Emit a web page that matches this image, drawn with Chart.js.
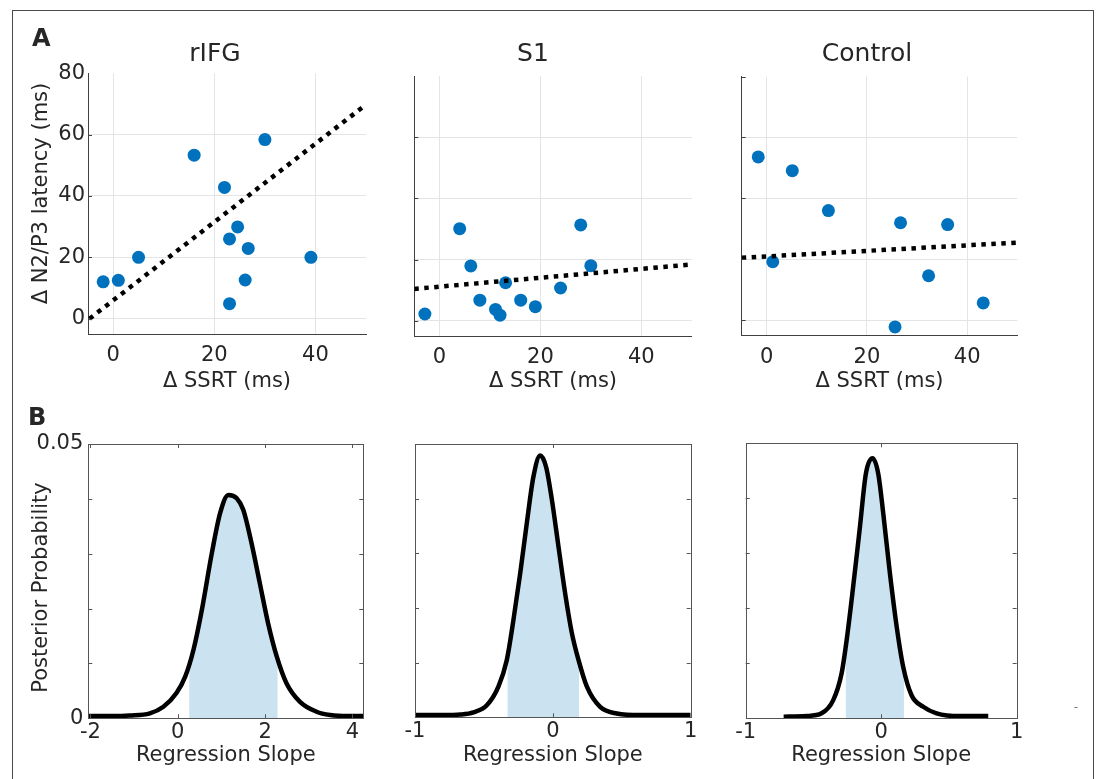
<!DOCTYPE html>
<html>
<head>
<meta charset="utf-8">
<title>SSRT vs N2/P3 latency</title>
<script src="https://cdn.jsdelivr.net/npm/chart.js@4.4.1/dist/chart.umd.min.js"></script>
<style>
  html, body { margin: 0; padding: 0; background: #fff; }
  #page { position: relative; width: 1098px; height: 779px; overflow: hidden;
          font-family: 'DejaVu Sans', sans-serif; color: #262626; }
  #page canvas { position: absolute; left: 0; top: 0; }
  .frame { position: absolute; left: 12px; top: 10px; width: 1080px; height: 800px; border: 1px solid #4a4a4a; }
  .txt { position: absolute; line-height: 1; white-space: nowrap; }
</style>
</head>
<body>
<div id="page">
  <div class="frame"></div>
  <canvas id="a1" width="1098" height="779"></canvas>
  <canvas id="a2" width="1098" height="779"></canvas>
  <canvas id="a3" width="1098" height="779"></canvas>
  <canvas id="b1" width="1098" height="779"></canvas>
  <canvas id="b2" width="1098" height="779"></canvas>
  <canvas id="b3" width="1098" height="779"></canvas>
</div>
<script>
// ---- values ----
const panelTitles = ['rIFG', 'S1', 'Control'];

const ssrtRIFG    = [-2, 1, 5, 16, 22, 30, 24.6, 23, 26.7, 26.1, 23, 39.1];
const latencyRIFG = [12, 12.5, 20, 53.3, 42.8, 58.4, 29.9, 26, 22.9, 12.6, 4.9, 20];
const ssrtS1      = [-2.9, 4, 6.2, 8, 11.1, 12, 13.1, 16.1, 19, 24, 28, 30];
const latencyS1   = [2.2, 30.1, 17.9, 6.7, 3.7, 1.8, 12.4, 6.7, 4.6, 10.7, 31.3, 18];
const ssrtCtrl    = [-1.7, 5.1, 12.3, 1.2, 26.7, 36.1, 32.3, 43.2, 25.6];
const latencyCtrl = [53.6, 49.1, 36, 19.2, 32, 31.4, 14.6, 5.7, -2.2];

// regression line end points
const fitXRIFG = [-4.7, 50], fitYRIFG = [0, 69.8];
const fitXS1   = [-5, 50],   fitYS1   = [10.4, 18.4];
const fitXCtrl = [-5, 50],   fitYCtrl = [20.5, 25.5];

const ssrtTicks      = [0, 20, 40];
const latencyTicks   = [0, 20, 40, 60, 80];
const slopeTicksRIFG = [-2, 0, 2, 4];
const slopeTicks     = [-1, 0, 1];
const probTicks      = [0, 0.01, 0.02, 0.03, 0.04, 0.05];

// posterior densities of the slope
const slopeRIFG = [-2.05, -1.5, -1.1, -0.64, -0.33, -0.03, 0.17, 0.36, 0.55, 0.78, 0.97, 1.16, 1.35, 1.5, 1.69, 1.88, 2.07, 2.27, 2.49, 2.8, 3.18, 3.49, 3.9, 4.25];
const postRIFG  = [0.0004, 0.0004, 0.0005, 0.0009, 0.0021, 0.0046, 0.0076, 0.0125, 0.0197, 0.0301, 0.0374, 0.0407, 0.0401, 0.038, 0.0319, 0.0246, 0.0173, 0.0112, 0.0064, 0.003, 0.0012, 0.0006, 0.0004, 0.0004];
const hdiSlopeRIFG = [0.26, 0.36, 0.55, 0.78, 0.97, 1.16, 1.35, 1.5, 1.69, 1.88, 2.07, 2.27, 2.29];
const hdiPostRIFG  = [0.0098, 0.0125, 0.0197, 0.0301, 0.0374, 0.0407, 0.0401, 0.038, 0.0319, 0.0246, 0.0173, 0.0112, 0.0108];

const slopeS1 = [-1, -0.8, -0.67, -0.576, -0.479, -0.395, -0.334, -0.286, -0.237, -0.189, -0.141, -0.092, -0.049, -0.007, 0.041, 0.089, 0.138, 0.186, 0.247, 0.343, 0.464, 0.633, 0.8, 1];
const postS1  = [0.0004, 0.0004, 0.0005, 0.0009, 0.0022, 0.0056, 0.0105, 0.0178, 0.0263, 0.0355, 0.044, 0.0479, 0.0458, 0.0398, 0.0312, 0.0227, 0.0154, 0.0105, 0.0056, 0.0019, 0.0007, 0.0004, 0.0004, 0.0004];
const hdiSlopeS1 = [-0.33, -0.286, -0.237, -0.189, -0.141, -0.092, -0.049, -0.007, 0.041, 0.089, 0.138, 0.19];
const hdiPostS1  = [0.0108, 0.0178, 0.0263, 0.0355, 0.044, 0.0479, 0.0458, 0.0398, 0.0312, 0.0227, 0.0154, 0.0102];

const slopeCtrl = [-0.72, -0.551, -0.44, -0.354, -0.292, -0.255, -0.207, -0.157, -0.113, -0.064, -0.022, 0.015, 0.064, 0.114, 0.162, 0.224, 0.31, 0.409, 0.58, 0.79];
const postCtrl  = [0.0003, 0.0004, 0.0009, 0.0033, 0.0082, 0.0142, 0.0239, 0.0348, 0.0445, 0.0473, 0.0445, 0.0373, 0.0264, 0.0167, 0.0094, 0.0042, 0.0021, 0.0009, 0.0004, 0.0004];
const hdiSlopeCtrl = [-0.263, -0.207, -0.157, -0.113, -0.064, -0.022, 0.015, 0.064, 0.114, 0.168];
const hdiPostCtrl  = [0.0128, 0.0239, 0.0348, 0.0445, 0.0473, 0.0445, 0.0373, 0.0264, 0.0167, 0.0088];

// ---- drawing ----
const W = 1098, H = 779;
const FAMILY = "'DejaVu Sans', sans-serif";
const INK = '#262626';
const AXIS = '#404040';
const BLUE = '#0072BD';
const HDI = '#cbe2f1';

Chart.defaults.font.family = FAMILY;
Chart.defaults.color = INK;

const page = document.getElementById('page');

function pts(xs, ys) {
  return xs.map((x, i) => ({ x: x, y: ys[i] }));
}

// every canvas covers the page, the padding puts the plot box where it belongs
function place(area, yW, xH) {
  return { left: area.l - yW, top: area.t, right: W - area.r, bottom: H - area.b - xH };
}

// inward tick marks and optional box
function frameTicks(cfg) {
  return {
    id: 'frameTicks',
    afterDatasetsDraw(chart) {
      const { ctx, chartArea: a, scales } = chart;
      ctx.save();
      ctx.strokeStyle = cfg.color;
      ctx.lineWidth = 1;
      if (cfg.box) {
        const l = Math.round(a.left), t = Math.round(a.top);
        ctx.strokeRect(l + 0.5, t + 0.5, Math.round(a.right) - l, Math.round(a.bottom) - t);
      }
      ctx.beginPath();
      if (cfg.y) scales.y.ticks.forEach(t => {
        const py = Math.round(scales.y.getPixelForValue(t.value)) + 0.5;
        if (py < a.top + 1 || py > a.bottom - 1) return;
        ctx.moveTo(a.left, py); ctx.lineTo(a.left + cfg.len, py);
        if (cfg.mirror) { ctx.moveTo(a.right, py); ctx.lineTo(a.right - cfg.len, py); }
      });
      if (cfg.x) scales.x.ticks.forEach(t => {
        const px = Math.round(scales.x.getPixelForValue(t.value)) + 0.5;
        if (px < a.left + 1 || px > a.right - 1) return;
        ctx.moveTo(px, a.bottom); ctx.lineTo(px, a.bottom - cfg.len);
        if (cfg.mirror) { ctx.moveTo(px, a.top); ctx.lineTo(px, a.top + cfg.len); }
      });
      ctx.stroke();
      ctx.restore();
    }
  };
}

function scatterPanel(id, area, xs, ys, fx, fy, withLabels) {
  const yW = 80, xH = 381.5 + 12.6 - area.b;
  new Chart(document.getElementById(id), {
    type: 'scatter',
    data: {
      datasets: [
        { data: pts(fx, fy), showLine: true, borderColor: '#000', borderWidth: 4.5,
          borderDash: [4.5, 5.5], borderCapStyle: 'butt', pointRadius: 0, order: 0 },
        { data: pts(xs, ys), pointStyle: 'circle', pointRadius: 6.5, borderWidth: 0,
          backgroundColor: BLUE, borderColor: BLUE, order: 1 }
      ]
    },
    options: {
      responsive: false,
      animation: false,
      events: [],
      layout: { padding: place(area, yW, xH) },
      plugins: { legend: { display: false }, tooltip: { enabled: false } },
      scales: {
        x: {
          type: 'linear', min: -5, max: 50,
          afterBuildTicks: s => { s.ticks = ssrtTicks.map(v => ({ value: v })); },
          afterFit: s => { s.height = xH; },
          grid: { color: '#e4e4e4', drawTicks: false },
          border: { display: true, color: AXIS, width: 1 },
          ticks: { color: INK, font: { size: 21 }, padding: 9, maxRotation: 0, autoSkip: false },
          title: { display: true, text: 'Δ SSRT (ms)', color: INK, font: { size: 21 }, padding: 0 }
        },
        y: {
          type: 'linear', min: -5, max: 80,
          afterBuildTicks: s => { s.ticks = latencyTicks.map(v => ({ value: v })); },
          afterFit: s => { s.width = yW; },
          grid: { color: c => c.tick && c.tick.value === 80 ? 'rgba(0,0,0,0)' : '#e4e4e4', drawTicks: false },
          border: { display: true, color: AXIS, width: 1 },
          ticks: { display: withLabels, color: INK, font: { size: 21 }, padding: 3, autoSkip: false }
        }
      }
    },
    plugins: [frameTicks({ box: false, y: true, x: false, mirror: false, len: 4, color: AXIS })]
  });
}

function posteriorPanel(id, area, xMin, xMax, xTicks, cx, cy, hx, hy, withLabels) {
  const yW = 80, xH = 756 + 12.6 - area.b;
  new Chart(document.getElementById(id), {
    type: 'scatter',
    data: {
      datasets: [
        { data: pts(cx, cy), showLine: true, borderColor: '#000', borderWidth: 4.5,
          borderCapStyle: 'butt', borderJoinStyle: 'round', pointRadius: 0,
          cubicInterpolationMode: 'monotone', order: 0 },
        { data: pts(hx, hy), showLine: true, borderWidth: 0, borderColor: 'rgba(0,0,0,0)',
          backgroundColor: HDI, fill: 'origin', pointRadius: 0,
          cubicInterpolationMode: 'monotone', order: 1 }
      ]
    },
    options: {
      responsive: false,
      animation: false,
      events: [],
      layout: { padding: place(area, yW, xH) },
      plugins: { legend: { display: false }, tooltip: { enabled: false } },
      scales: {
        x: {
          type: 'linear', min: xMin, max: xMax,
          afterBuildTicks: s => { s.ticks = xTicks.map(v => ({ value: v })); },
          afterFit: s => { s.height = xH; },
          grid: { display: false, drawTicks: false },
          border: { display: false },
          ticks: { color: INK, font: { size: 21 }, padding: 2, maxRotation: 0, autoSkip: false },
          title: { display: true, text: 'Regression Slope', color: INK, font: { size: 21 }, padding: 0 }
        },
        y: {
          type: 'linear', min: 0, max: 0.05,
          afterBuildTicks: s => { s.ticks = probTicks.map(v => ({ value: v })); },
          afterFit: s => { s.width = yW; },
          grid: { display: false, drawTicks: false },
          border: { display: false },
          ticks: {
            display: withLabels, color: INK, font: { size: 21 }, padding: 5, autoSkip: false,
            callback: v => (v === 0 || v === 0.05) ? String(v) : ''
          }
        }
      }
    },
    plugins: [frameTicks({ box: true, y: true, x: true, mirror: true, len: 4, color: '#555' })]
  });
}

scatterPanel('a1', { l: 88, r: 366, t: 73.3, b: 334 }, ssrtRIFG, latencyRIFG, fitXRIFG, fitYRIFG, true);
scatterPanel('a2', { l: 414.3, r: 691.7, t: 76, b: 336 }, ssrtS1, latencyS1, fitXS1, fitYS1, false);
scatterPanel('a3', { l: 741.7, r: 1017.3, t: 76.5, b: 335.5 }, ssrtCtrl, latencyCtrl, fitXCtrl, fitYCtrl, false);

posteriorPanel('b1', { l: 88.3, r: 363.3, t: 444, b: 718.3 }, -2.05, 4.25, slopeTicksRIFG,
  slopeRIFG, postRIFG, hdiSlopeRIFG, hdiPostRIFG, true);
posteriorPanel('b2', { l: 415, r: 690.7, t: 444, b: 717.3 }, -1, 1, slopeTicks,
  slopeS1, postS1, hdiSlopeS1, hdiPostS1, false);
posteriorPanel('b3', { l: 745.7, r: 1016.7, t: 443.3, b: 718.3 }, -1, 1, slopeTicks,
  slopeCtrl, postCtrl, hdiSlopeCtrl, hdiPostCtrl, false);

// ---- text outside the axes ----
function label(text, o) {
  const el = document.createElement('div');
  el.className = 'txt';
  el.textContent = text;
  el.style.fontSize = o.size + 'px';
  if (o.bold) el.style.fontWeight = 'bold';
  if (o.color) el.style.color = o.color;
  const box = 400;
  if (o.rotate) {
    el.style.width = box + 'px';
    el.style.textAlign = 'center';
    el.style.left = (o.cx - box / 2) + 'px';
    el.style.top = (o.cy - o.size / 2) + 'px';
    el.style.transform = 'rotate(-90deg)';
  } else {
    el.style.top = (o.base - 0.846 * o.size) + 'px';
    if (o.cx !== undefined) {
      el.style.width = box + 'px';
      el.style.textAlign = 'center';
      el.style.left = (o.cx - box / 2) + 'px';
    } else {
      el.style.left = o.x + 'px';
    }
  }
  page.appendChild(el);
}

label('A', { x: 32, base: 46.7, size: 24, bold: true });
label('B', { x: 28, base: 425, size: 24, bold: true });
label(panelTitles[0], { cx: 215, base: 61.5, size: 25 });
label(panelTitles[1], { cx: 533, base: 61.5, size: 25 });
label(panelTitles[2], { cx: 867, base: 61.5, size: 25 });
label('Δ N2/P3 latency (ms)', { rotate: true, cx: 40, cy: 193.5, size: 21 });
label('Posterior Probability', { rotate: true, cx: 39.5, cy: 587.5, size: 21 });
label('-', { cx: 1076, base: 711.5, size: 12, color: '#777' });
</script>
</body>
</html>
